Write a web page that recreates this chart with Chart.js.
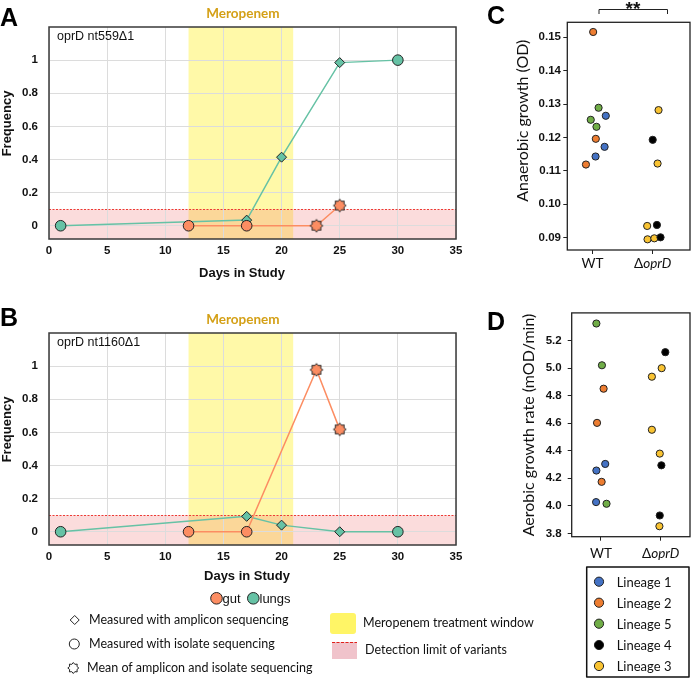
<!DOCTYPE html>
<html>
<head>
<meta charset="utf-8">
<script src="https://cdn.jsdelivr.net/npm/chart.js@4.4.1/dist/chart.umd.min.js"></script>
<style>
  body { margin: 0; background: #fff; }
  #fig { position: relative; width: 695px; height: 680px; overflow: hidden; }
  canvas { position: absolute; }
  .pl { position: absolute; font: bold 25px "Liberation Sans", Arial, sans-serif; line-height: 1; color: #000; }
  .t { position: absolute; white-space: nowrap; line-height: 1; transform: translateY(-50%); color: #111; }
  .lato { font-family: Lato, "Open Sans", sans-serif; font-size: 12.5px; }
  .arial { font-family: "Liberation Sans", Arial, sans-serif; font-size: 13px; }
  .lin { font-family: Lato, "Open Sans", sans-serif; font-size: 13px; }
</style>
</head>
<body>
<div id="fig">
  <canvas id="keys" width="695" height="680" style="left:0;top:0"></canvas>
  <canvas id="chartA" width="470" height="290" style="left:0;top:0"></canvas>
  <canvas id="chartB" width="470" height="290" style="left:0;top:306px"></canvas>
  <canvas id="chartC" width="215" height="290" style="left:480px;top:0"></canvas>
  <canvas id="chartD" width="215" height="280" style="left:480px;top:300px"></canvas>

  <div class="pl" style="left:0;top:5px">A</div>
  <div class="pl" style="left:0;top:305px">B</div>
  <div class="pl" style="left:487px;top:3px">C</div>
  <div class="pl" style="left:487px;top:309px">D</div>

  <div class="t arial" style="left:222.5px;top:598px">gut</div>
  <div class="t arial" style="left:259.5px;top:598px">lungs</div>
  <div class="t lato" style="left:89px;top:620px">Measured with amplicon sequencing</div>
  <div class="t lato" style="left:89px;top:644px">Measured with isolate sequencing</div>
  <div class="t lato" style="left:87px;top:668px">Mean of amplicon and isolate sequencing</div>
  <div class="t lato" style="left:363px;top:623px">Meropenem treatment window</div>
  <div class="t lato" style="left:365px;top:650px">Detection limit of variants</div>
  <div id="lineageKey"></div>
</div>
<script>
// ---- data: panels A and B (frequency of oprD variants) ----
const dayTicks = [0, 5, 10, 15, 20, 25, 30, 35];
const freqTicks = [0, 0.2, 0.4, 0.6, 0.8, 1];
const freqTickLabels = ['0', '0.2', '0.4', '0.6', '0.8', '1'];
const meropenemWindow = [12, 21];
const detectionLimit = 0.1;

const aGutDays = [12, 17, 23, 25];
const aGutFreq = [0, 0, 0, 0.122];
const aGutMarks = ['isolate', 'isolate', 'mean', 'mean'];
const aLungDays = [1, 17, 20, 25, 30];
const aLungFreq = [0, 0.034, 0.414, 0.985, 1.0];
const aLungMarks = ['isolate', 'amplicon', 'amplicon', 'amplicon', 'isolate'];

const bGutDays = [12, 17, 23, 25];
const bGutFreq = [0, 0, 0.978, 0.618];
const bGutMarks = ['isolate', 'isolate', 'mean', 'mean'];
const bLungDays = [1, 17, 20, 25, 30];
const bLungFreq = [0, 0.093, 0.04, 0, 0];
const bLungMarks = ['isolate', 'amplicon', 'amplicon', 'amplicon', 'isolate'];

// ---- data: panels C and D (growth of WT vs ΔoprD) ----
const groupLabels = ['WT', 'oprD'];
const lineageOrder = [1, 2, 5, 4, 3];

const cPos = [0.01, 0.10, -0.03, 0.22, 0.065, 0.054, 0.20, 0.05, -0.11,
              1.097, 1.0, 1.081, 0.908, 1.07, 0.914, 1.027, 1.13];
const cValues = [0.1516, 0.1289, 0.1253, 0.1265, 0.1232, 0.1196, 0.1172, 0.1143, 0.1119,
                 0.1282, 0.1193, 0.1122, 0.0935, 0.0938, 0.0895, 0.0898, 0.0901];
const cLineage = [2, 5, 5, 1, 5, 2, 1, 1, 2, 3, 4, 3, 3, 4, 3, 3, 4];
const cTicks = [0.09, 0.10, 0.11, 0.12, 0.13, 0.14, 0.15];

const dPos = [-0.077, 0.016, 0.044, -0.066, 0.071, -0.077, 0.011, -0.082, 0.093,
              1.077, 1.016, 0.852, 0.852, 0.984, 1.011, 0.984, 0.978];
const dValues = [5.323, 5.020, 4.850, 4.602, 4.304, 4.256, 4.174, 4.027, 4.015,
                 5.115, 4.999, 4.937, 4.552, 4.379, 4.294, 3.930, 3.852];
const dLineage = [5, 5, 2, 2, 1, 1, 2, 1, 5, 4, 3, 3, 3, 3, 4, 4, 3];
const dTicks = [3.8, 4.0, 4.2, 4.4, 4.6, 4.8, 5.0, 5.2];

// ---- styles ----
const ARIAL = '"Liberation Sans", Arial, sans-serif';
const LATO = 'Lato, "Open Sans", sans-serif';
const GUT = '#fc8d62';
const LUNG = '#66c2a5';
const EDGE = '#222';
const lineageColor = { 1: '#4472c4', 2: '#ed7d31', 3: '#f9c332', 4: '#000000', 5: '#70ad47' };

function cogPath(ctx, cx, cy, r) {
  ctx.beginPath();
  for (let i = 0; i < 16; i++) {
    const ang = i * Math.PI / 8 - Math.PI / 2;
    const rr = i % 2 === 0 ? r : r * 0.72;
    const px = cx + rr * Math.cos(ang), py = cy + rr * Math.sin(ang);
    if (i === 0) ctx.moveTo(px, py); else ctx.lineTo(px, py);
  }
  ctx.closePath();
}

function cogImage(color) {
  const c = document.createElement('canvas');
  c.width = 16; c.height = 16;
  const ctx = c.getContext('2d');
  cogPath(ctx, 8, 8, 6.3);
  ctx.fillStyle = color;
  ctx.fill();
  ctx.lineJoin = 'round';
  ctx.lineWidth = 1;
  ctx.strokeStyle = EDGE;
  ctx.stroke();
  return c;
}

function markerStyle(mark, color) {
  if (mark === 'amplicon') return 'rectRot';
  if (mark === 'mean') return cogImage(color);
  return 'circle';
}

function series(label, days, freq, marks, color) {
  return {
    label,
    data: days.map((d, i) => ({ x: d, y: freq[i] })),
    borderColor: color,
    backgroundColor: color,
    borderWidth: 1.5,
    pointStyle: marks.map(m => markerStyle(m, color)),
    pointRadius: marks.map(m => m === 'amplicon' ? 5 : 5.3),
    pointBackgroundColor: color,
    pointBorderColor: EDGE,
    pointBorderWidth: 1
  };
}

function freqChart(id, gene, gut, lungs, titleX, titleY) {
  const decor = {
    id: 'freqDecor',
    beforeDraw(chart) {
      const { ctx, chartArea: a, scales: { x, y } } = chart;
      const x0 = x.getPixelForValue(meropenemWindow[0]);
      const x1 = x.getPixelForValue(meropenemWindow[1]);
      const yl = y.getPixelForValue(detectionLimit);
      ctx.save();
      ctx.fillStyle = '#fff9a8';
      ctx.fillRect(x0, a.top, x1 - x0, a.bottom - a.top);
      ctx.fillStyle = 'rgba(238, 110, 110, 0.24)';
      ctx.fillRect(a.left, yl, a.right - a.left, a.bottom - yl);
      ctx.restore();
    },
    beforeDatasetsDraw(chart) {
      const { ctx, chartArea: a, scales: { y } } = chart;
      const yl = Math.round(y.getPixelForValue(detectionLimit)) + 0.5;
      ctx.save();
      ctx.strokeStyle = '#ec3b35';
      ctx.lineWidth = 1;
      ctx.setLineDash([2, 1.5]);
      ctx.beginPath();
      ctx.moveTo(a.left, yl);
      ctx.lineTo(a.right, yl);
      ctx.stroke();
      ctx.restore();
    },
    afterDraw(chart) {
      const { ctx, chartArea: a, scales: { x } } = chart;
      ctx.save();
      ctx.strokeStyle = '#3a3a3a';
      ctx.lineWidth = 1.5;
      ctx.strokeRect(a.left, a.top, a.right - a.left, a.bottom - a.top);
      ctx.textBaseline = 'middle';
      ctx.textAlign = 'center';
      ctx.fillStyle = '#d4a017';
      ctx.font = 'bold 13.5px ' + LATO;
      const mid = (x.getPixelForValue(meropenemWindow[0]) + x.getPixelForValue(meropenemWindow[1])) / 2;
      ctx.fillText('Meropenem', mid + 2, 14);
      ctx.fillStyle = '#111';
      ctx.font = 'bold 13px ' + ARIAL;
      ctx.fillText('Days in Study', titleX, titleY);
      ctx.save();
      ctx.translate(7.5, 123.5);
      ctx.rotate(-Math.PI / 2);
      ctx.fillText('Frequency', 0, 0);
      ctx.restore();
      ctx.textAlign = 'left';
      ctx.font = '12.5px ' + ARIAL;
      ctx.fillText(gene, 57, 37);
      ctx.restore();
    }
  };

  new Chart(document.getElementById(id), {
    type: 'line',
    data: {
      datasets: [
        series('gut', gut.days, gut.freq, gut.marks, GUT),
        series('lungs', lungs.days, lungs.freq, lungs.marks, LUNG)
      ]
    },
    options: {
      responsive: false,
      animation: false,
      events: [],
      layout: { padding: { top: 27, right: 14, left: 0, bottom: 0 } },
      plugins: { legend: { display: false }, tooltip: { enabled: false } },
      scales: {
        x: {
          type: 'linear', min: 0, max: 35,
          afterBuildTicks: s => { s.ticks = dayTicks.map(v => ({ value: v })); },
          afterFit: s => { s.height = 51; },
          grid: { color: '#dcdcdc', drawTicks: false },
          border: { display: false },
          ticks: { padding: 5, color: '#111', font: { family: ARIAL, size: 11.5, weight: 'bold' } }
        },
        y: {
          min: -0.08, max: 1.2,
          afterBuildTicks: s => { s.ticks = freqTicks.map(v => ({ value: v })); },
          afterFit: s => { s.width = 49; },
          grid: { color: '#dcdcdc', drawTicks: false },
          border: { display: false },
          ticks: {
            padding: 11, color: '#111',
            font: { family: ARIAL, size: 11.5, weight: 'bold' },
            callback: (v, i) => freqTickLabels[i]
          }
        }
      }
    },
    plugins: [decor]
  });
}

freqChart('chartA', 'oprD nt559\u03941',
  { days: aGutDays, freq: aGutFreq, marks: aGutMarks },
  { days: aLungDays, freq: aLungFreq, marks: aLungMarks }, 242, 273);
freqChart('chartB', 'oprD nt1160\u03941',
  { days: bGutDays, freq: bGutFreq, marks: bGutMarks },
  { days: bLungDays, freq: bLungFreq, marks: bLungMarks }, 247, 270);

function growthChart(id, pos, vals, lineage, o) {
  const decor = {
    id: 'growthDecor',
    afterDraw(chart) {
      const { ctx, chartArea: a, scales: { x } } = chart;
      ctx.save();
      ctx.strokeStyle = '#222';
      ctx.lineWidth = 1.3;
      ctx.strokeRect(a.left, a.top, a.right - a.left, a.bottom - a.top);
      ctx.fillStyle = '#111';
      ctx.textBaseline = 'middle';
      // group labels, with oprD in italics after the delta
      ctx.font = '13.5px ' + LATO;
      ctx.textAlign = 'center';
      ctx.fillText(groupLabels[0], x.getPixelForValue(0), o.labelY);
      const dW = ctx.measureText('\u0394').width;
      ctx.font = 'italic 13.5px ' + LATO;
      const gW = ctx.measureText(groupLabels[1]).width;
      const start = x.getPixelForValue(1) - (dW + gW) / 2;
      ctx.textAlign = 'left';
      ctx.font = '13.5px ' + LATO;
      ctx.fillText('\u0394', start, o.labelY);
      ctx.font = 'italic 13.5px ' + LATO;
      ctx.fillText(groupLabels[1], start + dW, o.labelY);
      // y title
      ctx.save();
      ctx.translate(o.titleX, o.titleY);
      ctx.rotate(-Math.PI / 2);
      ctx.textAlign = 'center';
      ctx.font = o.titleFont + ' ' + LATO;
      ctx.fillText(o.title, 0, 0);
      ctx.restore();
      if (o.bracket) {
        ctx.strokeStyle = '#222';
        ctx.lineWidth = 1;
        ctx.beginPath();
        ctx.moveTo(119, 14); ctx.lineTo(119, 9.5); ctx.lineTo(187.5, 9.5); ctx.lineTo(187.5, 14);
        ctx.stroke();
        ctx.textAlign = 'center';
        ctx.textBaseline = 'alphabetic';
        ctx.font = 'bold 19px ' + ARIAL;
        ctx.fillText('**', 153, 15);
      }
      ctx.restore();
    }
  };

  new Chart(document.getElementById(id), {
    type: 'scatter',
    data: {
      datasets: [{
        data: pos.map((p, i) => ({ x: p, y: vals[i] })),
        pointRadius: 3.6,
        pointBackgroundColor: lineage.map(l => lineageColor[l]),
        pointBorderColor: EDGE,
        pointBorderWidth: 1
      }]
    },
    options: {
      responsive: false,
      animation: false,
      events: [],
      layout: { padding: o.padding },
      plugins: { legend: { display: false }, tooltip: { enabled: false } },
      scales: {
        x: {
          type: 'linear', min: o.xMin, max: o.xMax,
          afterBuildTicks: s => { s.ticks = [0, 1].map(v => ({ value: v })); },
          afterFit: s => { s.height = o.xHeight; },
          grid: { drawOnChartArea: false, drawTicks: true, tickLength: 4, color: '#222' },
          border: { display: false },
          ticks: { callback: () => '' }
        },
        y: {
          min: o.yMin, max: o.yMax,
          afterBuildTicks: s => { s.ticks = o.ticks.map(v => ({ value: v })); },
          afterFit: s => { s.width = o.yWidth; },
          grid: { drawOnChartArea: false, drawTicks: true, tickLength: 4, color: '#222' },
          border: { display: false },
          ticks: {
            padding: o.tickPad, color: '#111',
            font: { family: ARIAL, size: 11.5, weight: 'bold' },
            callback: v => v.toFixed(o.decimals)
          }
        }
      }
    },
    plugins: [decor]
  });
}

growthChart('chartC', cPos, cValues, cLineage, {
  xMin: -0.42, xMax: 1.62, yMin: 0.0863, yMax: 0.1545, ticks: cTicks, decimals: 2,
  padding: { top: 22.3, right: 1.7, left: 0, bottom: 0 }, yWidth: 87.3, xHeight: 40, tickPad: 2.3,
  labelY: 263.7, title: 'Anaerobic growth (OD)', titleFont: '16px', titleX: 42.7, titleY: 120.7, bracket: true
});
growthChart('chartD', dPos, dValues, dLineage, {
  xMin: -0.49, xMax: 1.49, yMin: 3.776, yMax: 5.40, ticks: dTicks, decimals: 1,
  padding: { top: 7.7, right: 2.3, left: 0, bottom: 0 }, yWidth: 91.7, xHeight: 43.3, tickPad: 6,
  labelY: 253.3, title: 'Aerobic growth rate (mOD/min)', titleFont: '16px', titleX: 49, titleY: 125, bracket: false
});

// ---- keys below the charts ----
const keys = document.getElementById('keys').getContext('2d');
function dot(cx, cy, r, fill) {
  keys.beginPath();
  keys.arc(cx, cy, r, 0, Math.PI * 2);
  keys.fillStyle = fill; keys.fill();
  keys.lineWidth = 1; keys.strokeStyle = EDGE; keys.stroke();
}
dot(216.5, 598.3, 5.8, GUT);
dot(253.3, 598.3, 5.8, LUNG);
// marker shapes
keys.beginPath();
keys.moveTo(74.7, 615.5); keys.lineTo(79.2, 620); keys.lineTo(74.7, 624.5); keys.lineTo(70.2, 620);
keys.closePath();
keys.fillStyle = '#fff'; keys.fill(); keys.lineWidth = 1; keys.strokeStyle = EDGE; keys.stroke();
dot(74.3, 644, 5, '#fff');
cogPath(keys, 73.3, 668, 5.5);
keys.fillStyle = '#fff'; keys.fill(); keys.lineJoin = 'round'; keys.strokeStyle = EDGE; keys.stroke();
// band keys
keys.fillStyle = '#fff566';
keys.beginPath();
keys.roundRect(330, 613, 26, 21, 3);
keys.fill();
keys.fillStyle = '#f0c3cb';
keys.fillRect(332, 642, 25, 17);
keys.strokeStyle = '#e0201a';
keys.setLineDash([3, 1.5]);
keys.beginPath(); keys.moveTo(332, 642.5); keys.lineTo(357, 642.5); keys.stroke();
keys.setLineDash([]);
// lineage key
keys.strokeStyle = '#111';
keys.lineWidth = 1.5;
keys.strokeRect(586.7, 567, 102.3, 110);
const lineageRowsY = [581.7, 602.7, 623.7, 645, 666];
const keyDiv = document.getElementById('lineageKey');
lineageOrder.forEach((l, i) => {
  dot(599, lineageRowsY[i], 4.6, lineageColor[l]);
  const t = document.createElement('div');
  t.className = 't lin';
  t.style.left = '616.7px';
  t.style.top = lineageRowsY[i] + 'px';
  t.textContent = 'Lineage ' + l;
  keyDiv.appendChild(t);
});
</script>
</body>
</html>
